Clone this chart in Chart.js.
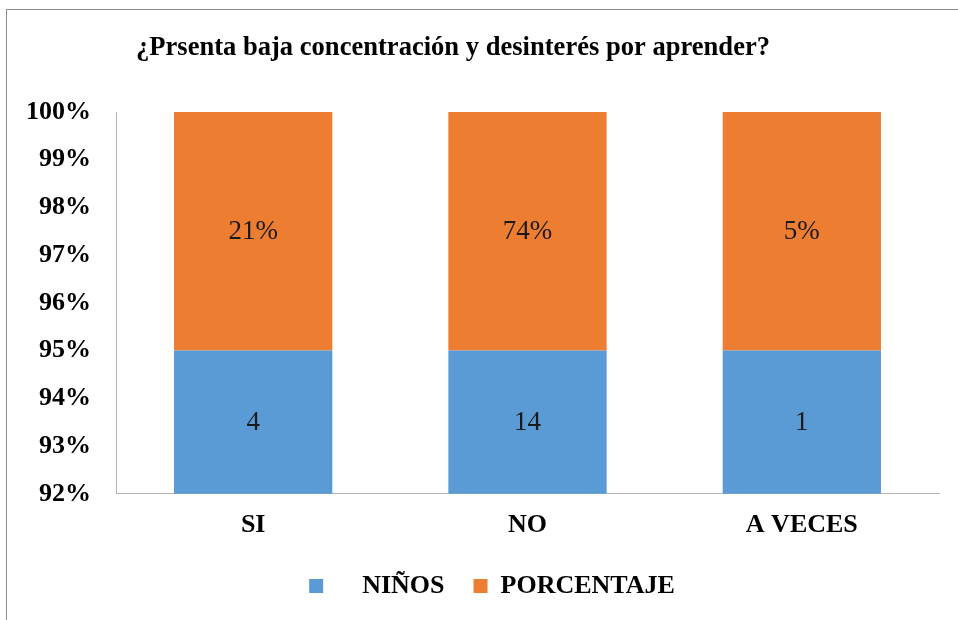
<!DOCTYPE html>
<html>
<head>
<meta charset="utf-8">
<script src="https://cdn.jsdelivr.net/npm/chart.js@4"></script>
<style>
    html, body { margin: 0; padding: 0; background: #fff; }
    #wrap { position: relative; width: 958px; height: 620px; overflow: hidden; }
    #frame { position: absolute; left: 6px; top: 9px; width: 1000px; height: 700px; border: 1px solid #8c8c8c; }
    #chart { position: absolute; left: 0; top: 0; }
</style>
</head>
<body>
<div id="wrap">
    <div id="frame"></div>
    <canvas id="chart" width="958" height="620"></canvas>
</div>
<script>
// Chart data
const chartTitle = '¿Prsenta baja concentración y desinterés por aprender?';
const categories = ['SI', 'NO', 'A VECES'];
const ninos = [4, 14, 1];
const porcentaje = [0.2105, 0.7368, 0.0526];
const yTicks = [92, 93, 94, 95, 96, 97, 98, 99, 100];

// 100% stacked: each series as a share of its category total
const totals = categories.map((c, i) => ninos[i] + porcentaje[i]);
const ninosShare = ninos.map((v, i) => v / totals[i] * 100);
const porcentajeShare = porcentaje.map((v, i) => v / totals[i] * 100);

const serif = '"Liberation Serif", "Times New Roman", serif';

// Draws the raw value in the middle of the visible part of each bar segment
const valueLabels = {
    id: 'valueLabels',
    afterDatasetsDraw(chart) {
        const ctx = chart.ctx;
        const area = chart.chartArea;
        const raw = [ninos, porcentaje.map(v => Math.round(v * 100) + '%')];
        ctx.save();
        ctx.font = '27px ' + serif;
        ctx.fillStyle = '#1a1a1a';
        ctx.textAlign = 'center';
        ctx.textBaseline = 'middle';
        chart.data.datasets.forEach((ds, d) => {
            chart.getDatasetMeta(d).data.forEach((bar, i) => {
                const top = Math.max(bar.y, area.top);
                const bottom = Math.min(bar.base, area.bottom);
                ctx.fillText(String(raw[d][i]), bar.x, (top + bottom) / 2 + 1);
            });
        });
        ctx.restore();
    }
};

// Title, a little left of centre and slightly condensed like the original
const chartHeading = {
    id: 'chartHeading',
    afterDraw(chart) {
        const ctx = chart.ctx;
        ctx.save();
        ctx.font = 'bold 27px ' + serif;
        ctx.fillStyle = '#000';
        ctx.textAlign = 'center';
        ctx.textBaseline = 'middle';
        ctx.fillText(chartTitle, 453, 48, 634);
        ctx.restore();
    }
};

// Legend sits a bit right of the canvas centre in the original
const legendShift = {
    id: 'legendShift',
    afterLayout(chart) {
        chart.legend.left += 22;
        chart.legend.right += 22;
    }
};

new Chart(document.getElementById('chart'), {
    type: 'bar',
    data: {
        labels: categories,
        datasets: [
            {
                label: 'NIÑOS',
                data: ninosShare,
                backgroundColor: '#5b9bd5',
                borderWidth: 0,
                categoryPercentage: 0.577,
                barPercentage: 1
            },
            {
                label: 'PORCENTAJE',
                data: porcentajeShare,
                backgroundColor: '#ed7d31',
                borderWidth: 0,
                categoryPercentage: 0.577,
                barPercentage: 1
            }
        ]
    },
    options: {
        responsive: false,
        animation: false,
        layout: {
            padding: { left: 1, right: 19, top: 112, bottom: 11 }
        },
        plugins: {
            title: { display: false },
            legend: {
                position: 'bottom',
                labels: {
                    color: '#000',
                    font: { family: serif, size: 26, weight: 'bold' },
                    boxWidth: 14,
                    boxHeight: 14,
                    padding: 16,
                    generateLabels(chart) {
                        const items = Chart.defaults.plugins.legend.labels.generateLabels(chart);
                        items.forEach(item => {
                            item.lineWidth = 0;
                            if (item.datasetIndex === 0) item.text = '    ' + item.text + '  ';
                        });
                        return items;
                    }
                }
            },
            tooltip: { enabled: false }
        },
        scales: {
            x: {
                stacked: true,
                grid: { display: false, drawTicks: false },
                border: { color: '#b3b3b3', width: 1 },
                ticks: {
                    color: '#000',
                    padding: 16,
                    font: { family: serif, size: 26, weight: 'bold' }
                }
            },
            y: {
                stacked: true,
                min: yTicks[0],
                max: yTicks[yTicks.length - 1],
                afterBuildTicks(axis) {
                    axis.ticks = yTicks.map(v => ({ value: v }));
                },
                grid: { display: false, drawTicks: false },
                border: { color: '#b3b3b3', width: 1 },
                ticks: {
                    color: '#000',
                    padding: 25,
                    font: { family: serif, size: 26, weight: 'bold' },
                    callback: function(value) {
                        return value + '%';
                    }
                }
            }
        }
    },
    plugins: [valueLabels, chartHeading, legendShift]
});
</script>
</body>
</html>
